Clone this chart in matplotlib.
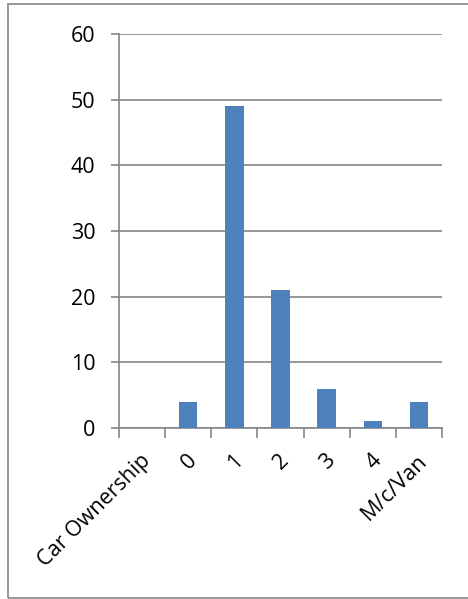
import numpy as np
import matplotlib.pyplot as plt
from matplotlib.patches import Rectangle

# data
categories = ['Car Ownership', '0', '1', '2', '3', '4', 'M/c/Van']
counts = [0, 4, 49, 21, 6, 1, 4]
y_ticks = [0, 10, 20, 30, 40, 50, 60]

bar_color = '#4F81BD'
grey = '#868686'

plt.rcParams['font.family'] = ['Open Sans', 'DejaVu Sans']

fig = plt.figure(figsize=(4.68, 5.99), dpi=100)
ax = fig.add_axes([119 / 468, 1 - 428 / 599, (442 - 119) / 468, (428 - 34) / 599])

x = np.arange(len(categories))
ax.bar(x[1:], counts[1:], width=0.4, color=bar_color, zorder=3)

ax.set_xlim(-0.5, len(categories) - 0.5)
ax.set_ylim(0, 60)
ax.set_yticks(y_ticks)
ax.grid(axis='y', color=grey, linewidth=1.2, zorder=0)

# category boundaries get the tick marks, like Excel
ax.set_xticks(np.arange(len(categories) + 1) - 0.5)
ax.set_xticklabels([])
ax.tick_params(axis='x', length=7, color=grey, width=1.2)
ax.tick_params(axis='y', length=6, color=grey, width=1.2, labelsize=15.5, pad=11)

for xi, name in zip(x, categories):
    ax.text(xi - 0.04, -3.4, name, rotation=45, ha='right', va='top',
            rotation_mode='anchor', fontsize=15.5)

for side in ['top', 'right']:
    ax.spines[side].set_visible(False)
for side in ['left', 'bottom']:
    ax.spines[side].set_color(grey)
    ax.spines[side].set_linewidth(1.2)

# outer chart border
fig.patches.append(Rectangle((8 / 468, 1 / 599), 1.2, 1 - 5 / 599, transform=fig.transFigure,
                             fill=False, edgecolor=grey, linewidth=1.2))

fig.savefig('out.png', dpi=100)
